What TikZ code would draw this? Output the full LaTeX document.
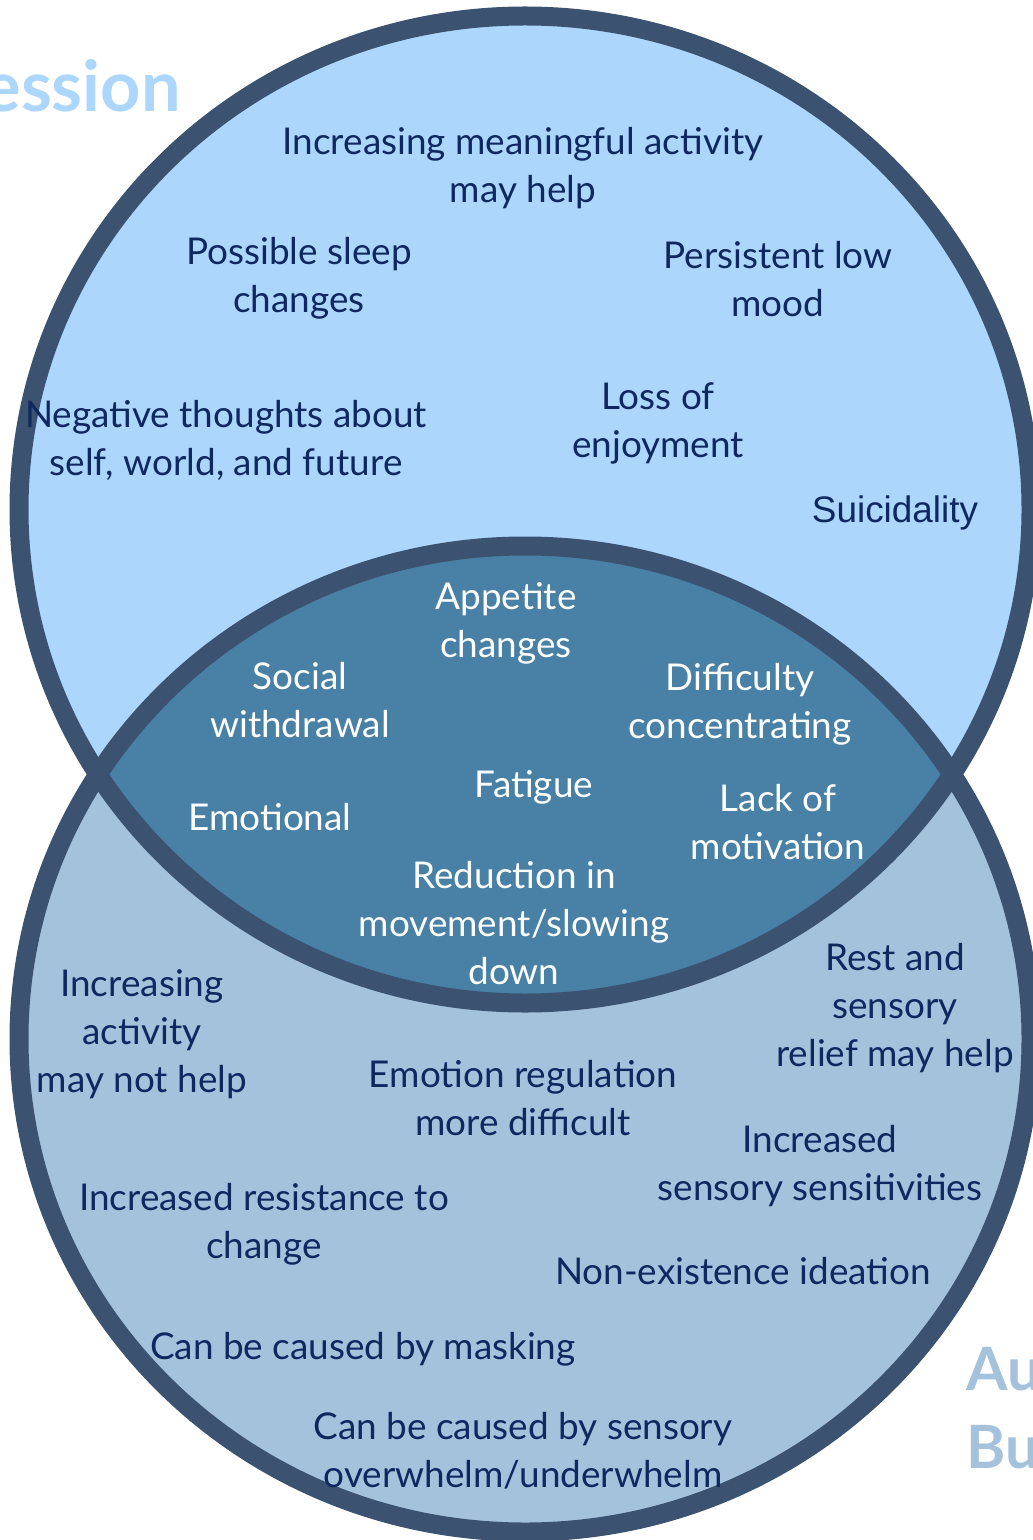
\documentclass[tikz,border=0pt]{standalone}
\usepackage{fontspec}
\setmainfont{Lato}
\newfontfamily\arialfont{Liberation Sans}
\usepackage{tikz}

\definecolor{ringcol}{RGB}{60,82,113}
\definecolor{depfill}{RGB}{172,214,251}
\definecolor{lensfill}{RGB}{72,128,166}
\definecolor{burnfill}{RGB}{165,194,220}
\definecolor{inkcol}{RGB}{14,40,96}

\begin{document}
\begin{tikzpicture}[
		x=0.02cm, y=-0.02cm,
		TopText/.style={text=inkcol, align=center, inner sep=0pt, yshift=-0.06cm,
			font=\fontsize{21}{27.3}\selectfont},
		LensText/.style={TopText, text=white},
		BotText/.style={TopText},
		Ring/.style={draw=ringcol, line width=19*0.02cm},
		]
		\useasboundingbox (0,0) rectangle (1033,1540);
		
		% the two sets
		\fill [depfill] (525,509.5) ellipse [x radius=506, y radius=493.5];
		\fill [burnfill] (525,1039) ellipse [x radius=506, y radius=493];
		\begin{scope}
			\clip (525,509.5) ellipse [x radius=506, y radius=493.5];
			\fill [lensfill] (525,1039) ellipse [x radius=506, y radius=493];
		\end{scope}
		\draw [Ring] (525,509.5) ellipse [x radius=506, y radius=493.5];
		\draw [Ring] (525,1039) ellipse [x radius=506, y radius=493];
		
		% titles
		\node [anchor=east, inner sep=0pt, text=depfill,
			font=\fontsize{40}{48}\selectfont\bfseries] (dep) at (181,86) {ession};
		\node [anchor=west, align=left, text=burnfill,
			font=\fontsize{34}{44}\selectfont\bfseries] (aut) at (960,1408) {Au\\Bu};
		
		% depression only
		\node [TopText] (1) at (523,165) {Increasing meaningful activity\\may help};
		\node [TopText] (2) at (299,275) {Possible sleep\\changes};
		\node [TopText] (3) at (778,276) {Persistent low\\mood};
		\node [TopText] (4) at (226,437) {Negative thoughts about\\self, world, and future};
		\node [TopText] (5) at (658,420) {Loss of\\enjoyment};
		\node [TopText, font=\arialfont\fontsize{21}{26}\selectfont] (6) at (895,510) {Suicidality};
		
		% both
		\node [LensText] (7) at (506,620) {Appetite\\changes};
		\node [LensText] (8) at (300,697) {Social\\withdrawal};
		\node [LensText] (9) at (740,701) {Difficulty\\concentrating};
		\node [LensText] (10) at (534,784) {Fatigue};
		\node [LensText] (11) at (270,814) {Emotional};
		\node [LensText] (12) at (778,819) {Lack of\\motivation};
		\node [LensText] (13) at (514,920) {Reduction in\\movement/slowing\\down};
		
		% burnout only
		\node [BotText] (14) at (142,1031) {Increasing\\activity\\may not help};
		\node [BotText] (15) at (895,1005) {Rest and\\sensory\\relief may help};
		\node [BotText] (16) at (523,1095) {Emotion regulation\\more difficult};
		\node [BotText] (17) at (820,1163) {Increased\\sensory sensitivities};
		\node [BotText] (18) at (264,1221) {Increased resistance to\\change};
		\node [BotText] (19) at (743,1268) {Non-existence ideation};
		\node [BotText] (20) at (363,1346) {Can be caused by masking};
		\node [BotText] (21) at (523,1448) {Can be caused by sensory\\overwhelm/underwhelm};
		
		
		\end{tikzpicture}
\end{document}
